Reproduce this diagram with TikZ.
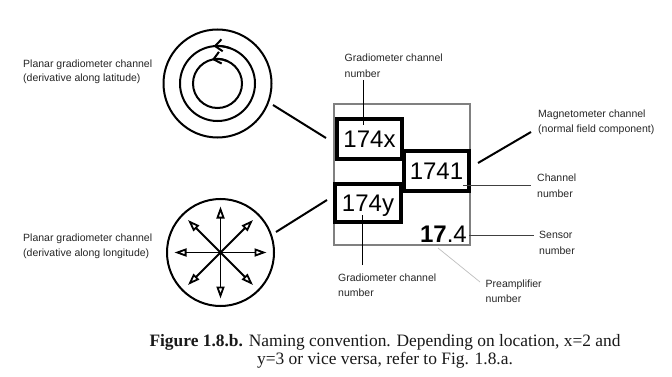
\documentclass[tikz,border=0pt]{standalone}
\usepackage{fontspec}
\setmainfont{Liberation Sans}
\newfontfamily\capfont{Liberation Serif}
\usetikzlibrary{arrows.meta,calc}
\begin{document}
\begin{tikzpicture}[x=1pt,y=-1pt,
  lbl/.style={font=\fontsize{10.5}{15.5}\selectfont, text=black!85, align=left, anchor=west, inner sep=0pt},
  numbox/.style={draw=black, line width=3.2pt, inner sep=0pt, font=\fontsize{24}{24}\selectfont, text height=17.2pt, text depth=0pt},
  lead/.style={line width=1pt, black!75},
  conn/.style={line width=2pt, black},
  ring/.style={line width=2pt, black},
  ray/.style={line width=1.8pt, black, -{Triangle[open, length=12pt, width=8pt]}},
  swirl/.style={line width=2pt, black, -{Straight Barb[length=7pt, width=12pt]}}
]
\useasboundingbox[fill=white] (0,0) rectangle (672,377);

% ---- latitude gradiometer symbol (concentric circles)
\coordinate (lc) at (217.5,83.5);
\draw[ring] (lc) circle[radius=54];
\draw[ring] (lc) circle[radius=37.5];
\draw[ring] (lc) circle[radius=24.5];
\draw[swirl] ($(lc)+(-70:37.5)$) arc[start angle=-70, end angle=-96, radius=37.5];
\draw[swirl] ($(lc)+(-65:24.5)$) arc[start angle=-65, end angle=-103, radius=24.5];

% ---- longitude gradiometer symbol (circle with rays)
\coordinate (rc) at (220.5,252.5);
\draw[ring] (rc) circle[radius=53.5];
\foreach \a in {0,45,...,315} {
  \draw[ray] (rc) -- +(\a:46);
}

% ---- sensor box
\node[draw=black!50, line width=2.8pt, minimum width=136pt, minimum height=141pt, inner sep=0pt] (pre) at (402,174.5) {};
\node[numbox, minimum width=65pt, minimum height=40pt] (gx) at (369.5,139) {174x};
\node[numbox, minimum width=65pt, minimum height=40pt] (mag) at (436.5,171) {1741};
\node[numbox, minimum width=66pt, minimum height=38pt] (gy) at (368,203) {174y};
\node[anchor=base east, inner sep=0pt, font=\fontsize{24}{24}\selectfont] (sens) at (467,242) {\textbf{17}.4};

% ---- labels
\node[lbl, font=\fontsize{10.5}{14.5}\selectfont] (llat) at (23,72) {Planar gradiometer channel\\(derivative along latitude)};
\node[lbl, font=\fontsize{10.5}{14.5}\selectfont] (llon) at (23,246.5) {Planar gradiometer channel\\(derivative along longitude)};
\node[lbl] (lgx) at (344.5,65.5) {Gradiometer channel\\number};
\node[lbl] (lgy) at (338,285) {Gradiometer channel\\number};
\node[lbl] (lmag) at (538,122.5) {Magnetometer channel\\(normal field component)};
\node[lbl] (lch) at (537,185.5) {Channel\\number};
\node[lbl] (lsen) at (539,242.8) {Sensor\\number};
\node[lbl] (lpre) at (485.5,291) {Preamplifier\\number};

% ---- leader lines
\coordinate (a1) at (363,80);   \coordinate (a2) at (363,125);
\coordinate (b1) at (362,215);  \coordinate (b2) at (362,265);
\coordinate (c1) at (463,185);  \coordinate (c2) at (531,185);
\coordinate (d1) at (469,235);  \coordinate (d2) at (534,235);
\coordinate (e1) at (478,163);  \coordinate (e2) at (531,132);
\coordinate (f1) at (438,248);  \coordinate (f2) at (480,282);
\coordinate (g1) at (273,105);  \coordinate (g2) at (326,138);
\coordinate (h1) at (276,232);  \coordinate (h2) at (327,200);

\draw[lead, black] (a1) -- (a2);
\draw[lead, black] (b2) -- (b1);
\draw[lead] (c1) -- (c2);
\draw[lead] (d1) -- (d2);
\draw[conn] (e1) -- (e2);
\draw[line width=0.7pt, black!25] (f1) -- (f2);
\draw[conn] (g1) -- (g2);
\draw[conn] (h1) -- (h2);

% ---- caption
\node[inner sep=0pt, align=center, font=\capfont\fontsize{17.4}{18}\selectfont, text=black!90] (cap) at (385,351)
  {\textbf{Figure 1.8.b.} Naming convention. Depending on location, x=2 and\\y=3 or vice versa, refer to Fig. 1.8.a.};
\end{tikzpicture}
\end{document}
